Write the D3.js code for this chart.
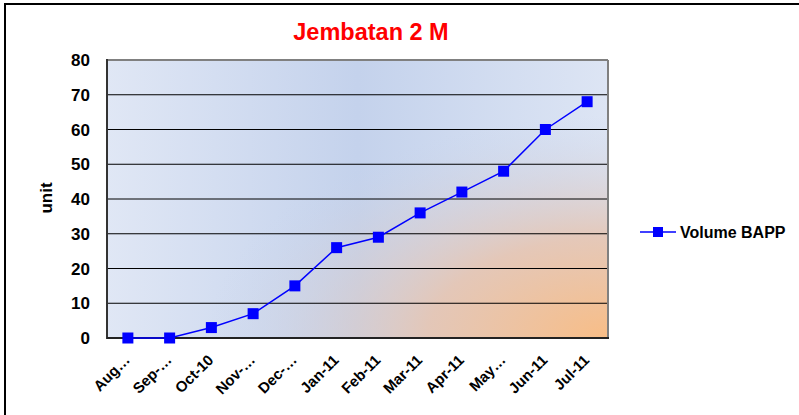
<!DOCTYPE html>
<html>
<head>
<meta charset="utf-8">
<script src="https://cdn.jsdelivr.net/npm/d3@7"></script>
<style>
  body { margin: 0; background: #fff; }
  text { font-family: Arial, "Liberation Sans", sans-serif; font-weight: bold; }
</style>
</head>
<body>
<div id="chart"></div>
<script>
var width = 799;
var height = 415;

var months = ["Aug\u2026", "Sep-\u2026", "Oct-10", "Nov-\u2026", "Dec-\u2026", "Jan-11", "Feb-11", "Mar-11", "Apr-11", "May\u2026", "Jun-11", "Jul-11"];
var volume = [0, 0, 3, 7, 15, 26, 29, 36, 42, 48, 60, 68];
var yTicks = [0, 10, 20, 30, 40, 50, 60, 70, 80];

var pLeft = 107, pRight = 608, pTop = 60, pBottom = 338;

var svg = d3.select("#chart").append("svg")
    .attr("width", width)
    .attr("height", height);

// outer frame
svg.append("rect")
    .attr("x", 5).attr("y", 4)
    .attr("width", width + 10).attr("height", height + 10)
    .attr("fill", "#fff")
    .attr("stroke", "#000")
    .attr("stroke-width", 2);

var defs = svg.append("defs");
var lin = defs.append("linearGradient").attr("id", "bgLin")
    .attr("x1", "0%").attr("y1", "0%").attr("x2", "100%").attr("y2", "0%");
lin.append("stop").attr("offset", "0%").attr("stop-color", "#e0e7f5");
lin.append("stop").attr("offset", "50%").attr("stop-color", "#c4d2ec");
lin.append("stop").attr("offset", "100%").attr("stop-color", "#dde5f4");

var rad = defs.append("radialGradient").attr("id", "bgRad")
    .attr("cx", "100%").attr("cy", "100%").attr("r", "80%");
rad.append("stop").attr("offset", "0%").attr("stop-color", "#f8bd86").attr("stop-opacity", 1);
rad.append("stop").attr("offset", "45%").attr("stop-color", "#e6c5b2").attr("stop-opacity", 0.9);
rad.append("stop").attr("offset", "100%").attr("stop-color", "#c8d4ec").attr("stop-opacity", 0);

var x = d3.scaleBand().domain(months).range([pLeft, pRight]);
var y = d3.scaleLinear().domain([0, 80]).range([pBottom, pTop]);

svg.append("rect")
    .attr("x", pLeft).attr("y", pTop)
    .attr("width", pRight - pLeft).attr("height", pBottom - pTop)
    .attr("fill", "url(#bgLin)");
svg.append("rect")
    .attr("x", pLeft).attr("y", pTop)
    .attr("width", pRight - pLeft).attr("height", pBottom - pTop)
    .attr("fill", "url(#bgRad)");

// gridlines
svg.append("g").selectAll("line")
    .data(yTicks.filter(function(d) { return d > 0 && d < 80; }))
    .enter().append("line")
    .attr("x1", pLeft).attr("x2", pRight)
    .attr("y1", function(d) { return y(d); })
    .attr("y2", function(d) { return y(d); })
    .attr("stroke", "#000").attr("stroke-width", 1);

// plot border: top/right gray, left/bottom dark
svg.append("line").attr("x1", pLeft).attr("x2", pRight).attr("y1", pTop).attr("y2", pTop)
    .attr("stroke", "#808080").attr("stroke-width", 2);
svg.append("line").attr("x1", pRight).attr("x2", pRight).attr("y1", pTop).attr("y2", pBottom)
    .attr("stroke", "#808080").attr("stroke-width", 2);
svg.append("line").attr("x1", pLeft).attr("x2", pLeft).attr("y1", pTop - 1).attr("y2", pBottom + 1)
    .attr("stroke", "#333").attr("stroke-width", 2);
svg.append("line").attr("x1", pLeft).attr("x2", pRight + 1).attr("y1", pBottom).attr("y2", pBottom)
    .attr("stroke", "#222").attr("stroke-width", 2);

// y labels
svg.append("g").selectAll("text")
    .data(yTicks)
    .enter().append("text")
    .attr("x", 90)
    .attr("y", function(d) { return y(d); })
    .attr("dy", "0.36em")
    .attr("text-anchor", "end")
    .attr("font-size", 17)
    .text(function(d) { return d; });

// x labels
svg.append("g").selectAll("text")
    .data(months)
    .enter().append("text")
    .attr("text-anchor", "end")
    .attr("font-size", 15)
    .attr("transform", function(d) {
        return "translate(" + (x(d) + x.bandwidth() / 2 + 3) + "," + 361 + ") rotate(-45)";
    })
    .text(function(d) { return d; });

// axis title
svg.append("text")
    .attr("transform", "translate(52,198) rotate(-90)")
    .attr("text-anchor", "middle")
    .attr("font-size", 17)
    .text("unit");

// chart title
svg.append("text")
    .attr("x", 371).attr("y", 40)
    .attr("text-anchor", "middle")
    .attr("font-size", 23.5)
    .attr("fill", "#ff0000")
    .text("Jembatan 2 M");

// series line
var line = d3.line()
    .x(function(d, i) { return x(months[i]) + x.bandwidth() / 2; })
    .y(function(d) { return y(d); });

svg.append("path")
    .datum(volume)
    .attr("fill", "none")
    .attr("stroke", "#0000ff")
    .attr("stroke-width", 1.5)
    .attr("d", line);

svg.append("g").selectAll("rect")
    .data(volume)
    .enter().append("rect")
    .attr("x", function(d, i) { return x(months[i]) + x.bandwidth() / 2 - 5.5; })
    .attr("y", function(d) { return y(d) - 5.5; })
    .attr("width", 11).attr("height", 11)
    .attr("fill", "#0000ff");

// legend
var lg = svg.append("g").attr("transform", "translate(640,232)");
lg.append("line").attr("x1", 0).attr("x2", 36).attr("y1", 0).attr("y2", 0)
    .attr("stroke", "#0000ff").attr("stroke-width", 1.5);
lg.append("rect").attr("x", 13).attr("y", -5).attr("width", 10).attr("height", 10)
    .attr("fill", "#0000ff");
lg.append("text").attr("x", 40).attr("y", 0).attr("dy", "0.36em")
    .attr("font-size", 16)
    .text("Volume BAPP");
</script>
</body>
</html>
